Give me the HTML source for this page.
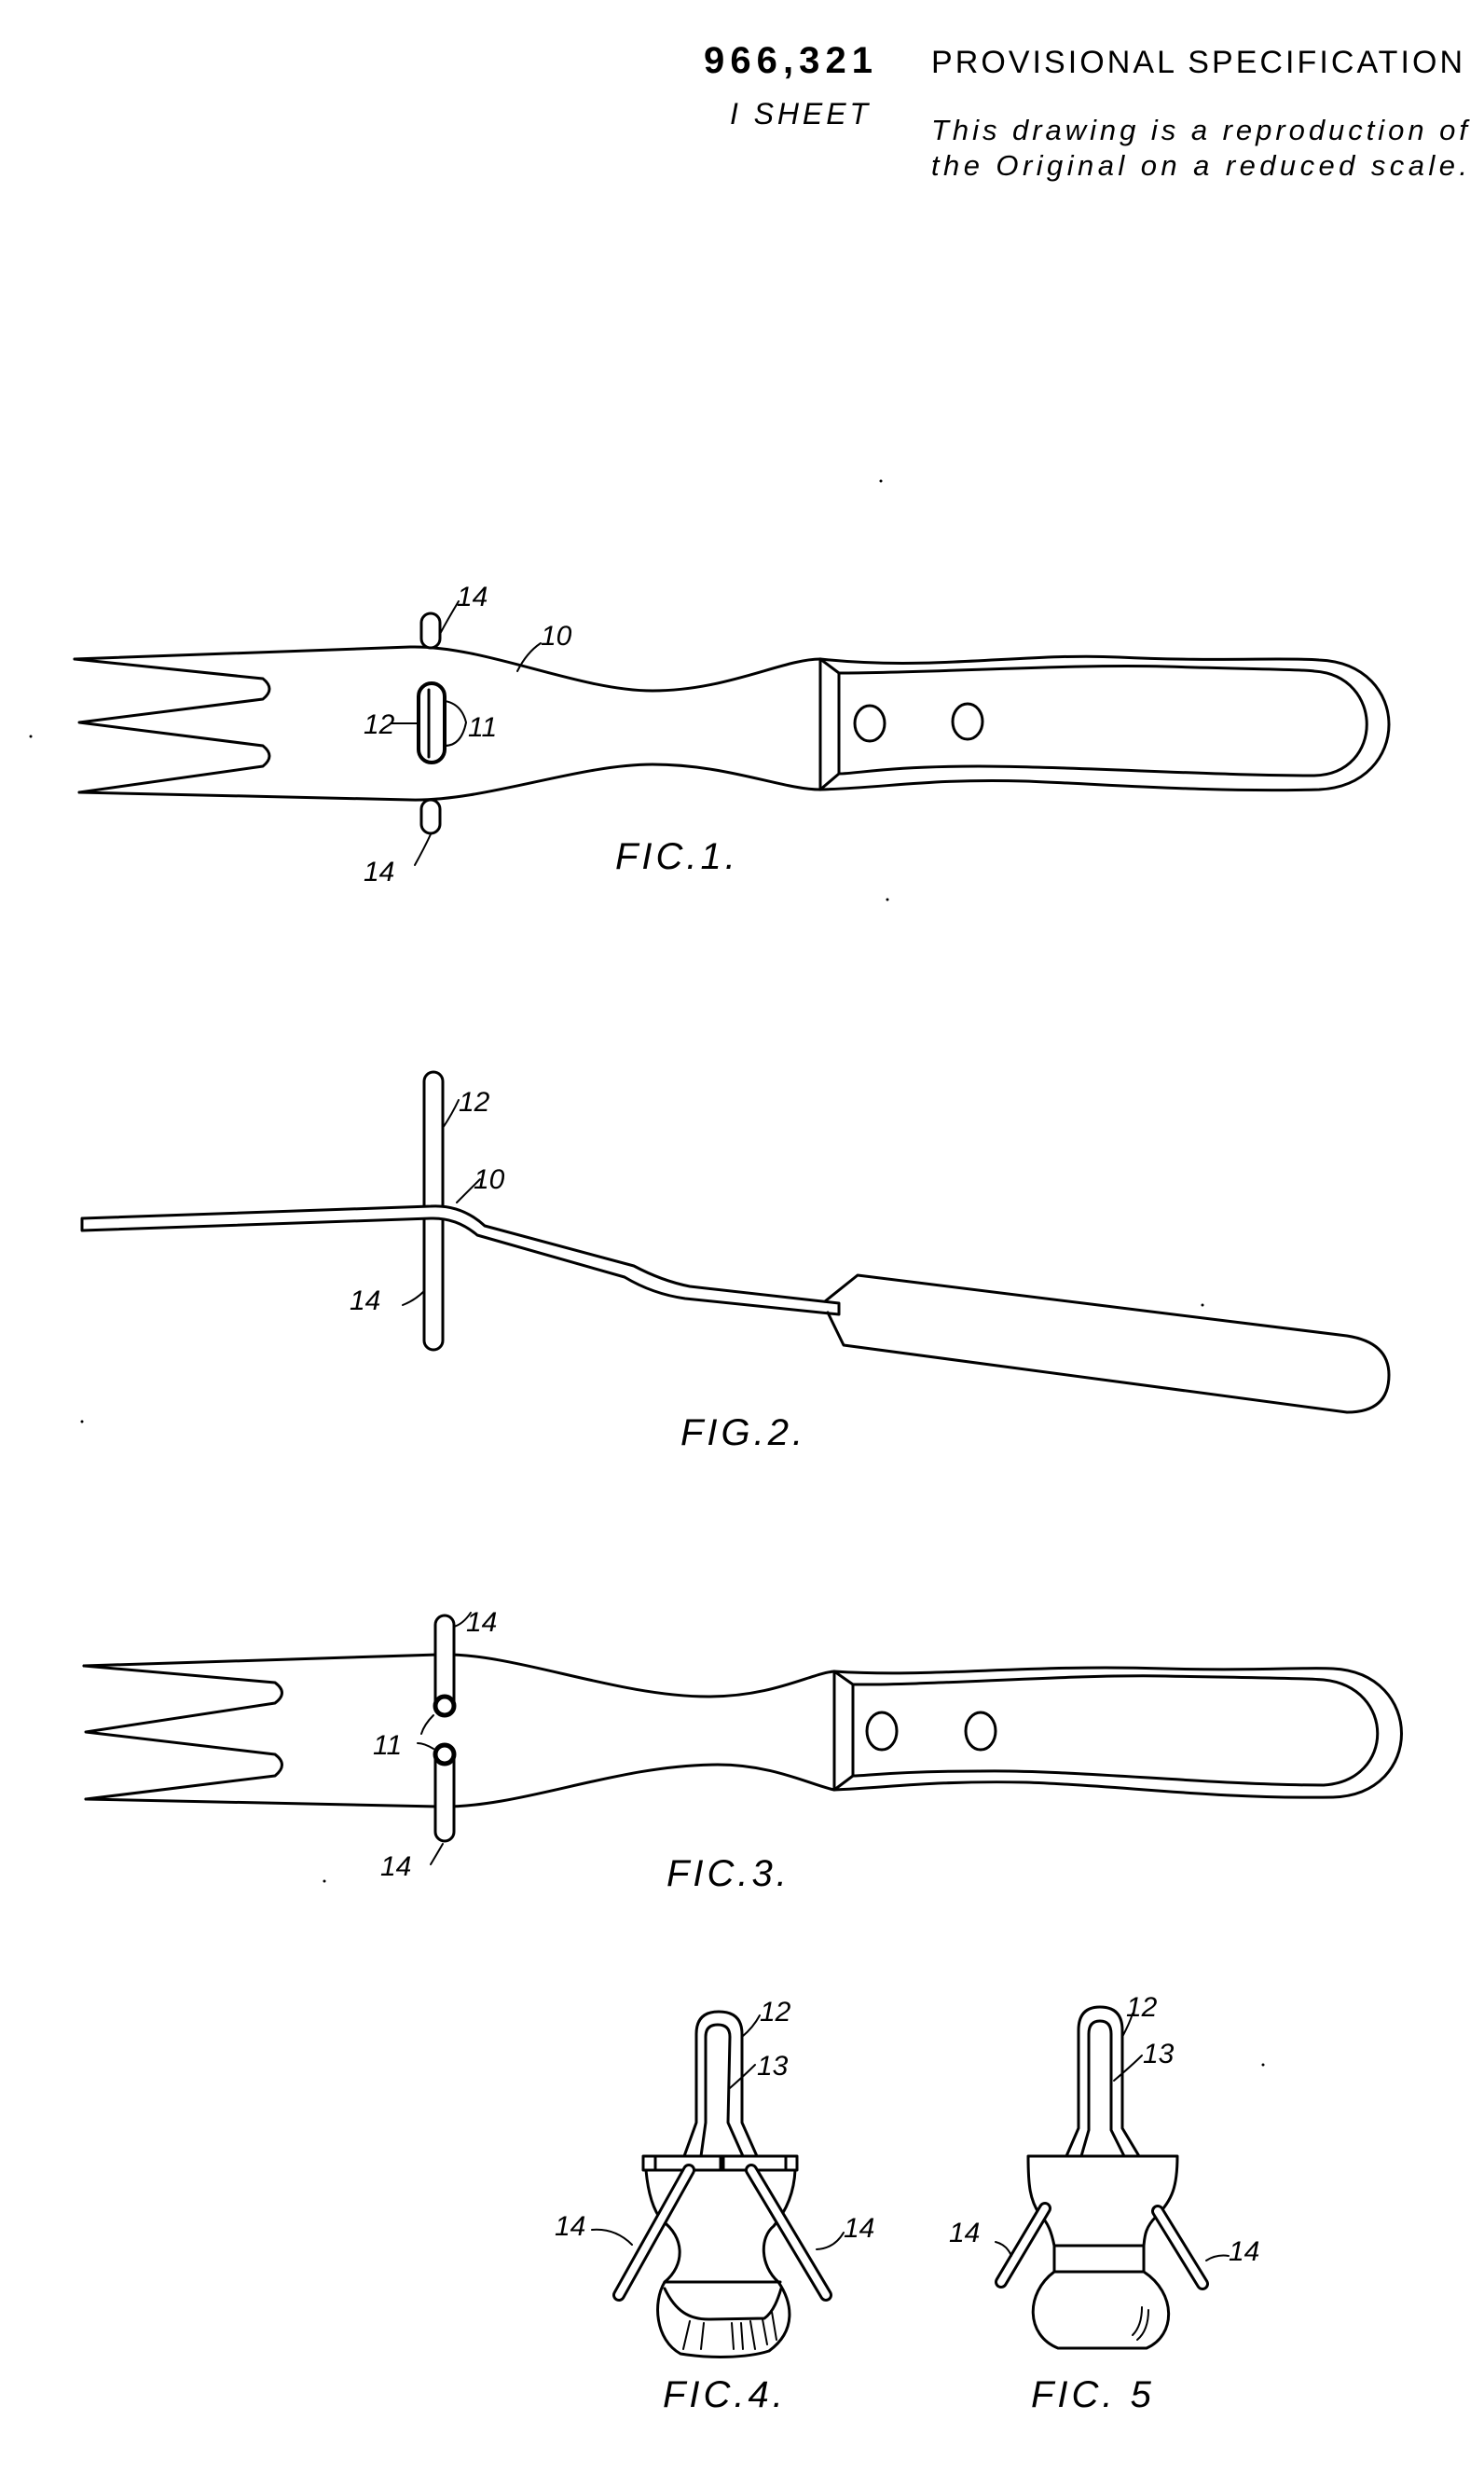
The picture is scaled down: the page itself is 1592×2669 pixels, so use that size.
<!DOCTYPE html>
<html><head><meta charset="utf-8"><style>
html,body{margin:0;padding:0;background:#fff;}
svg{display:block;}
text{font-family:"Liberation Sans",sans-serif;fill:#000;}
.l{font-style:italic;font-size:30px;}
.f{font-style:italic;font-size:40px;letter-spacing:4px;}
</style></head><body>
<svg width="1592" height="2669" viewBox="0 0 1592 2669" xmlns="http://www.w3.org/2000/svg">
<g>
<text x="755" y="78" font-size="40" font-weight="bold" textLength="181">966,321</text>
<text x="999" y="78" font-size="34" textLength="570">PROVISIONAL  SPECIFICATION</text>
<text x="783" y="133" font-size="32" font-style="italic" textLength="148">I  SHEET</text>
<text x="999" y="150" font-size="31" font-style="italic" textLength="575">This drawing is a reproduction of</text>
<text x="999" y="188" font-size="31" font-style="italic" textLength="575">the Original on a reduced scale.</text>
</g>
<g fill="none" stroke="#000" stroke-width="3" stroke-linejoin="round" stroke-linecap="round">
<!-- FIG 1 -->
<path d="M80,707 L440,694 C520,692 620,741 700,741 C780,741 840,707 880,707"/>
<path d="M85,850 L440,858 C520,860 620,820 700,820 C780,820 840,847 880,847"/>
<path d="M80,707 L282,728 Q296,739 282,750 L85,775 L282,800 Q296,811 282,822 L85,850"/>
<path d="M880,707 L880,847 M900,722 L900,830 M880,707 L900,722 M880,847 L900,830"/>
<path d="M880,707 C1000,720 1100,700 1200,705 C1300,710 1380,705 1415,708 C1515,712 1515,842 1415,847 C1300,850 1200,842 1100,838 C1000,835 950,845 880,847"/>
<path d="M900,722 C1000,722 1150,712 1250,715 C1350,718 1400,718 1410,720 C1485,725 1485,830 1410,832 C1300,832 1150,822 1050,822 C950,822 920,830 900,830"/>
<ellipse cx="933" cy="776" rx="16" ry="19"/>
<ellipse cx="1038" cy="774" rx="16" ry="19"/>
<rect x="449" y="733" width="28" height="85" rx="14" fill="#fff" stroke-width="4"/>
<line x1="460" y1="740" x2="460" y2="812"/>
<rect x="452" y="658" width="20" height="37" rx="10" fill="#fff"/>
<rect x="452" y="858" width="20" height="36" rx="10" fill="#fff"/>
<path d="M472,680 Q480,665 492,645" stroke-width="2"/>
<path d="M555,720 Q565,700 580,690" stroke-width="2"/>
<path d="M420,776 L447,776" stroke-width="2"/>
<path d="M477,752 Q495,755 500,775 Q495,800 477,800" stroke-width="2"/>
<path d="M462,895 Q455,910 445,928" stroke-width="2"/>
<!-- FIG 2 -->
<rect x="455" y="1150" width="20" height="298" rx="10" fill="#fff"/>
<path d="M88,1307 L462,1294 Q495,1292 520,1315 L680,1358 Q710,1374 740,1380 L900,1398 L900,1410 L735,1393 Q700,1388 670,1370 L512,1325 Q490,1306 462,1307 L88,1320 Z" fill="#fff"/>
<path d="M885,1396 L920,1368 L1445,1433 Q1490,1440 1490,1475 Q1490,1515 1445,1515 L905,1443 L888,1408"/>
<path d="M475,1210 Q485,1195 492,1180" stroke-width="2"/>
<path d="M490,1290 Q505,1275 515,1265" stroke-width="2"/>
<path d="M455,1385 Q445,1395 432,1400" stroke-width="2"/>
<!-- FIG 3 -->
<path d="M90,1787 L470,1775 C550,1772 660,1820 760,1820 C830,1820 870,1795 895,1793"/>
<path d="M92,1930 L470,1938 C560,1940 660,1893 770,1893 C830,1893 870,1915 895,1920"/>
<path d="M90,1787 L295,1805 Q310,1816 295,1827 L92,1858 L295,1882 Q310,1893 295,1905 L92,1930"/>
<path d="M895,1793 L895,1920 M915,1807 L915,1905 M895,1793 L915,1807 M895,1920 L915,1905"/>
<path d="M895,1793 C1000,1800 1100,1785 1250,1790 C1350,1793 1400,1788 1430,1790 C1528,1795 1528,1925 1430,1928 C1300,1930 1200,1915 1100,1912 C1000,1910 950,1918 895,1920"/>
<path d="M915,1807 C1000,1808 1150,1796 1250,1798 C1350,1800 1400,1800 1420,1802 C1497,1810 1497,1910 1420,1915 C1300,1915 1150,1898 1050,1900 C960,1900 930,1905 915,1905"/>
<ellipse cx="946" cy="1857" rx="16" ry="20"/>
<ellipse cx="1052" cy="1857" rx="16" ry="20"/>
<rect x="467" y="1733" width="20" height="107" rx="10" fill="#fff"/>
<rect x="467" y="1873" width="20" height="102" rx="10" fill="#fff"/>
<circle cx="477" cy="1830" r="10" stroke-width="5"/>
<circle cx="477" cy="1882" r="10" stroke-width="5"/>
<path d="M487,1745 Q497,1742 505,1730" stroke-width="2"/>
<path d="M465,1840 Q455,1850 452,1860 M465,1876 Q455,1870 448,1870" stroke-width="2"/>
<path d="M475,1978 Q468,1990 462,2000" stroke-width="2"/>
<!-- FIG 4 -->
<path d="M734,2313 L747,2277 L747,2182 Q747,2158 771,2158 Q796,2158 796,2182 L796,2277 L812,2313"/>
<path d="M752,2313 L757,2277 L757,2185 Q757,2172 770,2172 Q783,2172 783,2185 L781,2277 L797,2313"/>
<rect x="690" y="2313" width="165" height="15" fill="#fff"/>
<path d="M703,2313 L703,2328 M773,2313 L773,2328 M776,2313 L776,2328 M843,2313 L843,2328"/>
<path d="M693,2328 C695,2350 700,2370 710,2382 C735,2400 735,2430 713,2448 C700,2470 703,2510 730,2525 C760,2530 800,2530 825,2522 C855,2500 850,2470 835,2448 C815,2430 815,2400 830,2388 C845,2370 852,2350 853,2328"/>
<path d="M713,2448 L837,2448"/>
<path d="M713,2455 C725,2480 740,2488 760,2488 L820,2487 C830,2480 835,2465 838,2455"/>
<path d="M740,2490 L733,2520 M755,2492 L752,2520 M785,2492 L787,2520 M795,2492 L797,2520 M805,2490 L810,2520 M818,2488 L823,2515 M828,2480 L833,2510" stroke-width="2"/>
<path d="M739,2328 L664,2462" stroke-width="14" stroke="#000"/>
<path d="M739,2328 L664,2462" stroke-width="8" stroke="#fff"/>
<path d="M806,2328 L886,2462" stroke-width="14" stroke="#000"/>
<path d="M806,2328 L886,2462" stroke-width="8" stroke="#fff"/>
<path d="M796,2185 Q808,2175 815,2162" stroke-width="2"/>
<path d="M783,2240 Q800,2225 810,2215" stroke-width="2"/>
<path d="M635,2392 Q660,2390 678,2408" stroke-width="2"/>
<path d="M876,2413 Q895,2412 905,2395" stroke-width="2"/>
<!-- FIG 5 -->
<path d="M1144,2313 L1157,2283 L1157,2178 Q1157,2153 1180,2153 Q1204,2153 1204,2178 L1204,2283 L1222,2313"/>
<path d="M1160,2313 L1168,2285 L1168,2182 Q1168,2168 1180,2168 Q1192,2168 1192,2182 L1192,2285 L1206,2313"/>
<path d="M1103,2313 L1263,2313 C1263,2345 1258,2360 1240,2378 C1228,2390 1228,2400 1227,2409 L1227,2437 C1262,2460 1262,2505 1230,2519 L1135,2519 C1100,2505 1100,2460 1131,2437 L1131,2409 C1128,2395 1125,2385 1115,2375 C1105,2360 1103,2345 1103,2313 Z" fill="#fff"/>
<path d="M1131,2409 L1227,2409 M1131,2437 L1227,2437"/>
<path d="M1225,2475 Q1225,2495 1215,2505 M1232,2478 Q1232,2500 1220,2510" stroke-width="2"/>
<path d="M1121,2369 L1074,2448" stroke-width="14" stroke="#000"/>
<path d="M1121,2369 L1074,2448" stroke-width="8" stroke="#fff"/>
<path d="M1242,2372 L1290,2450" stroke-width="14" stroke="#000"/>
<path d="M1242,2372 L1290,2450" stroke-width="8" stroke="#fff"/>
<path d="M1204,2185 Q1212,2170 1215,2160" stroke-width="2"/>
<path d="M1195,2232 Q1215,2215 1225,2205" stroke-width="2"/>
<path d="M1068,2405 Q1080,2408 1085,2420" stroke-width="2"/>
<path d="M1294,2425 Q1305,2418 1318,2420" stroke-width="2"/>
</g>
<g fill="#000">
<circle cx="945" cy="516" r="1.5"/><circle cx="33" cy="790" r="1.5"/><circle cx="952" cy="965" r="1.5"/>
<circle cx="88" cy="1525" r="1.5"/><circle cx="1290" cy="1400" r="1.5"/><circle cx="348" cy="2018" r="1.5"/>
<circle cx="1355" cy="2215" r="1.5"/>
</g>
<text class="l" x="490" y="650">14</text>
<text class="l" x="580" y="692">10</text>
<text class="l" x="390" y="787">12</text>
<text class="l" x="502" y="790">11</text>
<text class="l" x="390" y="945">14</text>
<text class="f" x="660" y="932">FIC.1.</text>
<text class="l" x="492" y="1192">12</text>
<text class="l" x="508" y="1275">10</text>
<text class="l" x="375" y="1405">14</text>
<text class="f" x="730" y="1550">FIG.2.</text>
<text class="l" x="500" y="1750">14</text>
<text class="l" x="400" y="1882">11</text>
<text class="l" x="408" y="2012">14</text>
<text class="f" x="715" y="2023">FIC.3.</text>
<text class="l" x="815" y="2168">12</text>
<text class="l" x="812" y="2226">13</text>
<text class="l" x="595" y="2398">14</text>
<text class="l" x="905" y="2400">14</text>
<text class="f" x="711" y="2582">FIC.4.</text>
<text class="l" x="1208" y="2163">12</text>
<text class="l" x="1226" y="2213">13</text>
<text class="l" x="1018" y="2405">14</text>
<text class="l" x="1318" y="2425">14</text>
<text class="f" x="1106" y="2582">FIC. 5</text>
</svg>
</body></html>
